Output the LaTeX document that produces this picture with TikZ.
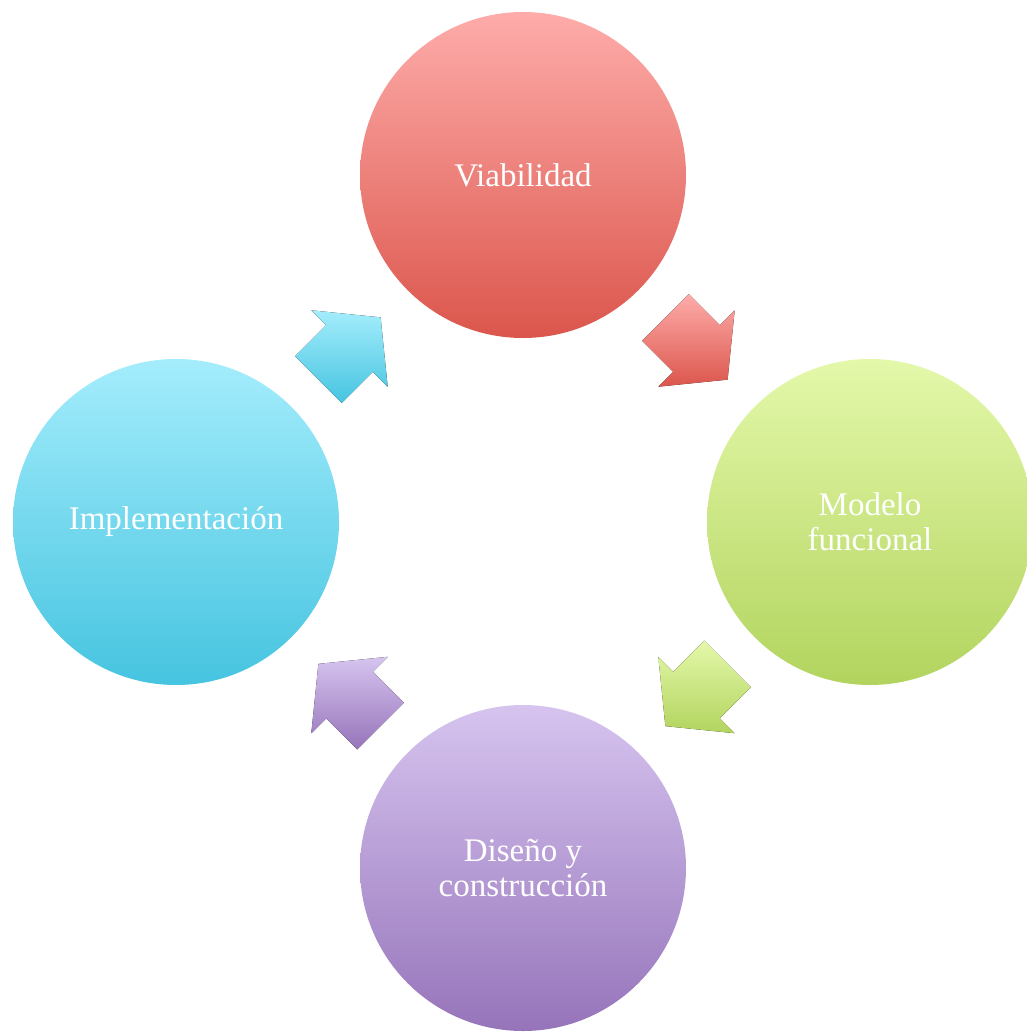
\documentclass[tikz,border=0pt]{standalone}
\usepackage{fontspec}
\setmainfont{Liberation Serif}
\usetikzlibrary{calc}
\definecolor{viaTop}{RGB}{254,172,170}
\definecolor{viaBot}{RGB}{219,86,76}
\definecolor{modTop}{RGB}{228,248,170}
\definecolor{modBot}{RGB}{178,212,94}
\definecolor{disTop}{RGB}{214,196,239}
\definecolor{disBot}{RGB}{150,116,186}
\definecolor{impTop}{RGB}{164,237,252}
\definecolor{impBot}{RGB}{70,196,224}
\tikzset{
	etapa/.style={circle, minimum size=163pt, inner sep=0pt, text=white, align=center,
		font=\fontsize{16.5}{17.5}\selectfont},
}
\begin{document}
\begin{tikzpicture}[x=0.5pt,y=0.5pt]
		\useasboundingbox (0,0) rectangle (1027,-1034);
		\node [etapa, top color=viaTop, bottom color=viaBot] (via) at (523,-175) {Viabilidad};
		\node [etapa, top color=modTop, bottom color=modBot] (mod) at (870,-522) {Modelo\\funcional};
		\node [etapa, top color=disTop, bottom color=disBot] (dis) at (523,-868) {Dise\~no y\\construcci\'on};
		\node [etapa, top color=impTop, bottom color=impBot] (imp) at (176,-522) {Implementaci\'on};
		\foreach \a/\b/\ang/\ct/\cb in {via/mod/-45/viaTop/viaBot, mod/dis/-135/modTop/modBot,
			dis/imp/135/disTop/disBot, imp/via/45/impTop/impBot}{%
			\begin{scope}[shift={($(\a)!0.5!(\b)$)}, rotate=\ang]
				\fill [top color=\ct, bottom color=\cb] (-44,-33) -- (0,-33) -- (0,-54) -- (44,0)
					-- (0,54) -- (0,33) -- (-44,33) -- cycle;
			\end{scope}
			}
	\end{tikzpicture}
\end{document}
